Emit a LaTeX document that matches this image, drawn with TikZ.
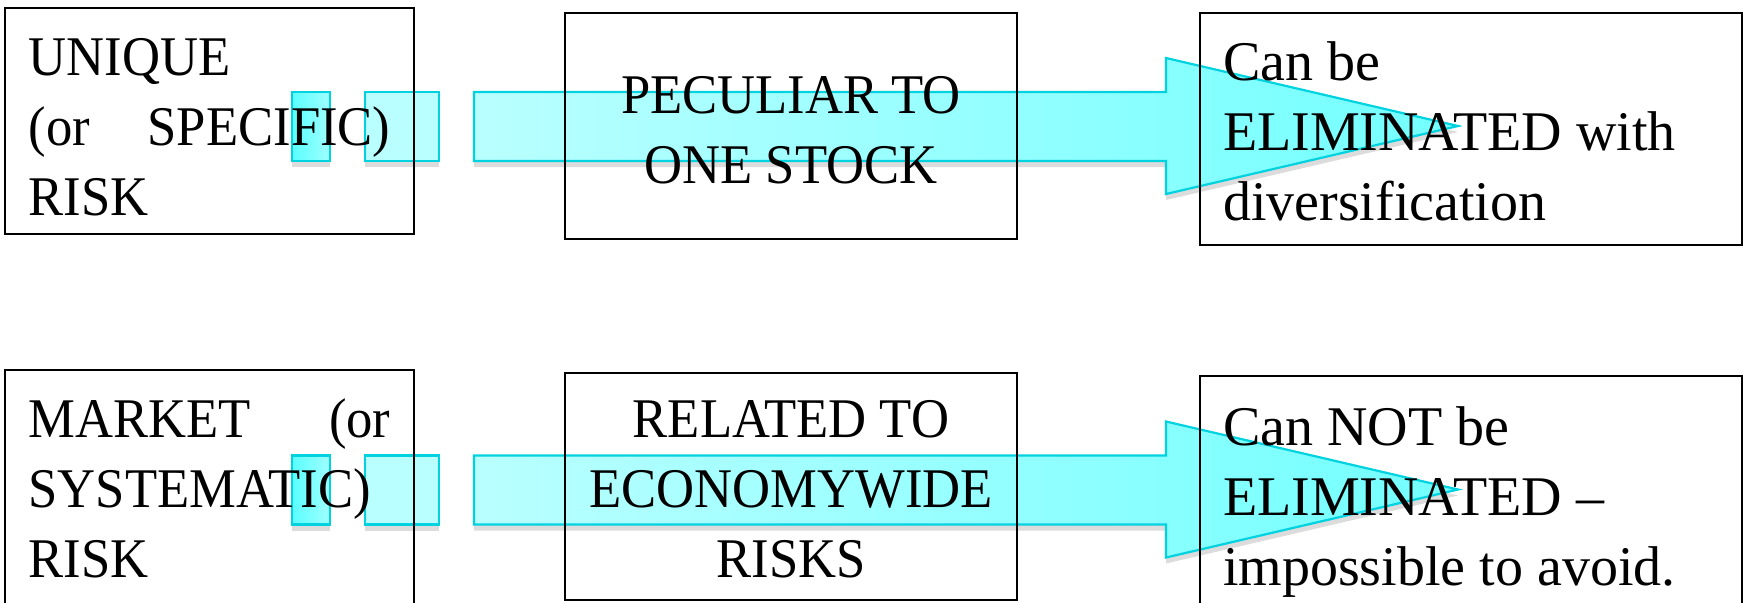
\documentclass[tikz,border=0pt]{standalone}
\usepackage{fontspec}
\setmainfont{Liberation Serif}
\newfontfamily\capsfont[FakeStretch=0.94]{Liberation Serif}
\usetikzlibrary{shadows}
\definecolor{arrowedge}{RGB}{0,210,224}
\definecolor{arrowlight}{RGB}{185,255,255}
\definecolor{arrowmid}{RGB}{160,255,255}
\definecolor{arrowdark}{RGB}{115,255,255}
\definecolor{arrowdeep}{RGB}{90,255,255}
\begin{document}
\begin{tikzpicture}[x=0.5pt,y=-0.5pt,
  box/.style={draw=black,line width=1pt,inner sep=0pt},
  shadowed/.style={drop shadow={shadow xshift=0pt,shadow yshift=-3pt,opacity=0.28}},
  blockedge/.style={draw=arrowedge,line width=1.1pt,line join=miter,shadowed},
  bodyfill/.style={blockedge,left color=arrowlight,right color=arrowdark},
  stubfill/.style={blockedge,fill=arrowlight},
  stubdeep/.style={blockedge,left color=arrowdeep,right color=arrowmid},
  txt/.style={inner sep=0pt,outer sep=0pt},
  capsize/.style={font=\capsfont\fontsize{28}{35}\selectfont},
  plainsize/.style={font=\fontsize{28}{35}\selectfont},
]
\useasboundingbox (0,0) rectangle (1744,602);
\clip (0,0) rectangle (1744,602);

% ---------- block arrows (drawn first, boxes and text on top)
\foreach \dy/\nm in {0/top,363.5/bot}{
  \coordinate (\nm a1) at (292,92+\dy);  \coordinate (\nm a2) at (330,161+\dy);
  \coordinate (\nm b1) at (365,92+\dy);  \coordinate (\nm b2) at (439,161+\dy);
  \coordinate (\nm s0) at (474,92+\dy);
  \coordinate (\nm h0) at (1166,92+\dy);
  \coordinate (\nm h1) at (1166,58+\dy);
  \coordinate (\nm tip) at (1458,126+\dy);
  \coordinate (\nm h2) at (1166,194+\dy);
  \coordinate (\nm h3) at (1166,161+\dy);
  \coordinate (\nm s1) at (474,161+\dy);
  \path[stubdeep] (\nm a1) rectangle (\nm a2);
  \path[stubfill] (\nm b1) rectangle (\nm b2);
  \path[bodyfill] (\nm s0) -- (\nm h0) -- (\nm h1) -- (\nm tip) -- (\nm h2)
     -- (\nm h3) -- (\nm s1) -- cycle;
}

% ---------- boxes
\node[box,minimum width=204.5pt,minimum height=113pt] (b1) at (209.5,120.5) {};
\node[box,minimum width=226pt,minimum height=113pt] (b2) at (791,126) {};
\node[box,minimum width=271pt,minimum height=116pt] (b3) at (1471,129) {};
\node[box,minimum width=204.5pt,minimum height=121pt] (b4) at (209.5,491) {};
\node[box,minimum width=226pt,minimum height=113.5pt] (b5) at (791,486.5) {};
\node[box,minimum width=271pt,minimum height=118pt] (b6) at (1471,494) {};

% ---------- texts
\node[txt,capsize,anchor=base west] (t1) at (28.5,75) {\parbox[t]{181pt}{%
  UNIQUE\par
  \hbox to 181pt{(or\hfill SPECIFIC)}\par
  RISK}};
\node[txt,capsize,anchor=base] (t2) at (791,113) {\parbox[t]{226pt}{\centering
  PECULIAR TO\\ONE STOCK}};
\node[txt,plainsize,anchor=base west] (t3) at (1223,80) {\parbox[t]{255pt}{\raggedright
  Can be\\ELIMINATED with\\diversification}};
\node[txt,capsize,anchor=base west] (t4) at (28.5,437) {\parbox[t]{181pt}{%
  \hbox to 181pt{MARKET\hfill (or}\par
  SYSTEMATIC)\par
  RISK}};
\node[txt,capsize,anchor=base] (t5) at (791,437) {\parbox[t]{226pt}{\centering
  RELATED TO\\ECONOMYWIDE\\RISKS}};
\node[txt,plainsize,anchor=base west] (t6) at (1223,445) {\parbox[t]{255pt}{\raggedright
  Can NOT be\\ELIMINATED --\\impossible to avoid.}};
\end{tikzpicture}
\end{document}
